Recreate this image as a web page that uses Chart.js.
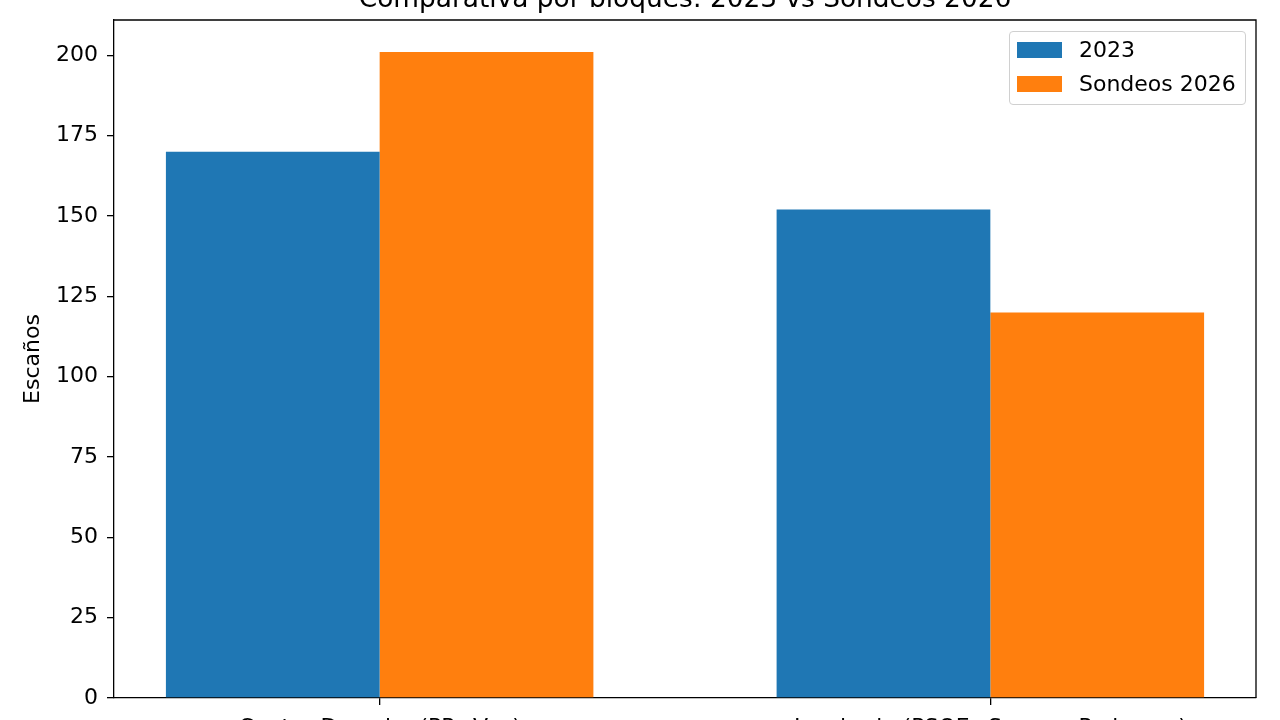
<!DOCTYPE html>
<html>
<head>
<meta charset="utf-8">
<script src="https://cdn.jsdelivr.net/npm/chart.js@4"></script>
<style>
  html, body { margin: 0; padding: 0; background: #fff; overflow: hidden; }
  body { width: 1280px; height: 720px; position: relative; font-family: "DejaVu Sans", sans-serif; }
  #wrap { position: absolute; left: 0; top: -20px; width: 1280px; height: 760px; }
  #legend { position: absolute; left: 1009px; top: 31px; width: 235px; height: 72px;
            border: 1px solid #d0d0d0; border-radius: 4px; background: rgba(255,255,255,0.8); }
  .item { position: absolute; left: 7px; height: 26px; font-size: 22px; line-height: 26px; color: #000; white-space: nowrap; }
  .swatch { position: absolute; left: 0; top: 5px; width: 45px; height: 16px; }
  .item span { position: absolute; left: 62px; top: 0; }
</style>
</head>
<body>
<div id="wrap"><canvas id="chart" width="1280" height="760"></canvas></div>
<div id="legend"></div>
<script>
const categories = ['Centro-Derecha (PP+Vox)', 'Izquierda (PSOE+Sumar+Podemos)'];
const seriesLabels = ['2023', 'Sondeos 2026'];
const seats2023 = [170, 152];
const polls2026 = [201, 120];
const seriesColors = ['#1f77b4', '#ff7f0e'];
const yTicks = [0, 25, 50, 75, 100, 125, 150, 175, 200];

const font = { family: '"DejaVu Sans", sans-serif', size: 22 };

// draws the top and right frame lines like the other two axes
const frame = {
    id: 'frame',
    afterDatasetsDraw(chart) {
        const { ctx, chartArea: a } = chart;
        ctx.save();
        ctx.strokeStyle = '#000';
        ctx.lineWidth = 1.3;
        ctx.beginPath();
        ctx.moveTo(a.left, a.top);
        ctx.lineTo(a.right, a.top);
        ctx.lineTo(a.right, a.bottom);
        ctx.stroke();
        ctx.restore();
    }
};

const toPoints = values => values.map((y, i) => ({ x: i, y: y }));

const chart = new Chart(document.getElementById('chart').getContext('2d'), {
    type: 'bar',
    data: {
        datasets: [
            { label: seriesLabels[0], data: toPoints(seats2023), backgroundColor: seriesColors[0] },
            { label: seriesLabels[1], data: toPoints(polls2026), backgroundColor: seriesColors[1] }
        ]
    },
    options: {
        responsive: false,
        animation: false,
        devicePixelRatio: 1,
        categoryPercentage: 0.7,
        barPercentage: 1.0,
        borderWidth: 0,
        layout: { padding: { left: 0, right: 24, top: 0, bottom: 0 } },
        plugins: {
            legend: { display: false },
            tooltip: { enabled: false },
            title: {
                display: true,
                fullSize: false,
                text: 'Comparativa por bloques: 2023 vs Sondeos 2026',
                color: '#000',
                font: { family: font.family, size: 26.4, weight: 'normal' },
                padding: { top: 4, bottom: 4.3 }
            }
        },
        scales: {
            x: {
                type: 'linear',
                offset: false,
                min: -0.435,
                max: 1.435,
                afterBuildTicks: s => { s.ticks = categories.map((c, i) => ({ value: i })); },
                afterFit: s => { s.height = 42; },
                ticks: {
                    callback: v => categories[v],
                    color: '#000',
                    font: font,
                    padding: 10,
                    autoSkip: false,
                    maxRotation: 0
                },
                grid: { display: true, offset: false, drawOnChartArea: false, drawTicks: true, tickLength: 7, color: '#000', lineWidth: 1.3 },
                border: { display: true, color: '#000', width: 1.3 }
            },
            y: {
                min: 0,
                max: 211,
                afterBuildTicks: s => { s.ticks = yTicks.map(v => ({ value: v })); },
                afterFit: s => { s.width = 114; },
                ticks: { color: '#000', font: font, padding: 9 },
                grid: { display: true, drawOnChartArea: false, drawTicks: true, tickLength: 7, color: '#000', lineWidth: 1.3 },
                border: { display: true, color: '#000', width: 1.3 },
                title: {
                    display: true,
                    text: 'Escaños',
                    color: '#000',
                    font: font,
                    padding: { top: 20, bottom: 0 }
                }
            }
        }
    },
    plugins: [frame]
});

// legend inside the plot, built from the datasets
const legend = document.getElementById('legend');
chart.data.datasets.forEach((ds, i) => {
    const item = document.createElement('div');
    item.className = 'item';
    item.style.top = (5 + i * 34) + 'px';
    item.innerHTML = '<div class="swatch" style="background:' + ds.backgroundColor + '"></div><span>' + ds.label + '</span>';
    legend.appendChild(item);
});
</script>
</body>
</html>
